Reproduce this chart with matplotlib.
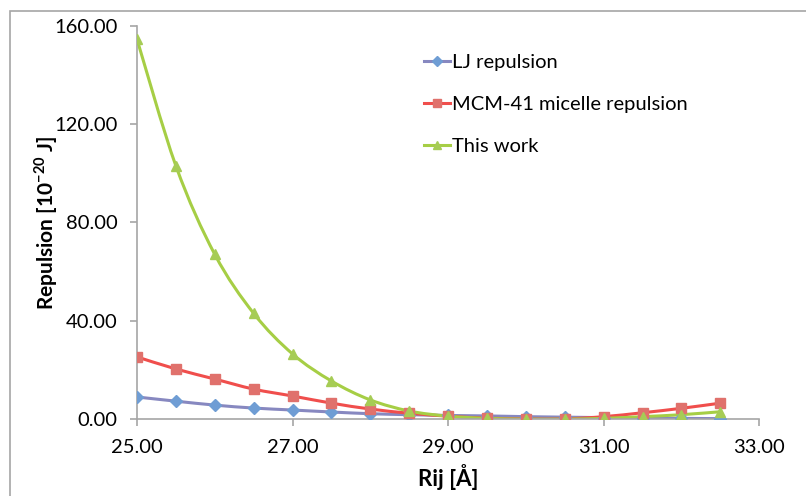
import matplotlib
matplotlib.use('Agg')
import matplotlib.pyplot as plt
import numpy as np
from matplotlib.path import Path
from matplotlib.patches import PathPatch, Rectangle
from matplotlib.lines import Line2D

plt.rcParams['font.family'] = ['Lato', 'DejaVu Sans']
plt.rcParams['mathtext.fontset'] = 'custom'
plt.rcParams['mathtext.rm'] = 'Lato'
plt.rcParams['mathtext.bf'] = 'Lato:bold'

# данные
rij = [25.0, 25.5, 26.0, 26.5, 27.0, 27.5, 28.0, 28.5,
       29.0, 29.5, 30.0, 30.5, 31.0, 31.5, 32.0, 32.5]
lj_rep = [9.0, 7.3, 5.7, 4.5, 3.7, 2.9, 2.2, 1.8,
          1.5, 1.3, 1.0, 0.8, 0.6, 0.4, 0.3, 0.2]
mcm_rep = [25.3, 20.4, 16.3, 12.2, 9.4, 6.5, 4.1, 2.4,
           1.2, 0.4, 0.1, 0.1, 1.0, 2.6, 4.4, 6.5]
this_work = [154.5, 103.0, 67.0, 43.0, 26.5, 15.5, 7.8, 3.3,
             1.2, 0.3, 0.0, 0.0, 0.3, 1.0, 1.8, 3.0]

series = [
    ('LJ repulsion', lj_rep, '#8788C0', '#6F9DD4', 'D', 6.0),
    ('MCM-41 micelle repulsion', mcm_rep, '#F04E4C', '#E0716C', 's', 7.0),
    ('This work', this_work, '#A6CE45', '#A6CC55', '^', 7.5),
]


def smooth_path(x, y):
    # сглаженная линия как в Excel (кубические Безье)
    pts = np.column_stack([x, y])
    n = len(pts)
    verts = [pts[0]]
    codes = [Path.MOVETO]
    for i in range(n - 1):
        p0 = pts[i - 1] if i > 0 else pts[i]
        p1 = pts[i]
        p2 = pts[i + 1]
        p3 = pts[i + 2] if i + 2 < n else pts[i + 1]
        c1 = p1 + (p2 - p0) / 6.0
        c2 = p2 - (p3 - p1) / 6.0
        verts += [c1, c2, p2]
        codes += [Path.CURVE4] * 3
    return Path(verts, codes)


fig = plt.figure(figsize=(8.06, 4.96), dpi=100)
ax = fig.add_axes([0.170, 0.155, 0.772, 0.793])

handles = []
for name, vals, lc, mc, mk, ms in series:
    ax.add_patch(PathPatch(smooth_path(rij, vals), facecolor='none',
                           edgecolor=lc, linewidth=2.2, zorder=2))
    ax.plot(rij, vals, linestyle='none', marker=mk, markersize=ms,
            markerfacecolor=mc, markeredgecolor=mc, zorder=3)
    handles.append(Line2D([], [], color=lc, linewidth=2.2, marker=mk,
                          markersize=ms * 0.8, markerfacecolor=mc,
                          markeredgecolor=mc, label=name))

ax.set_xlim(25, 33)
ax.set_ylim(0, 160)
ax.set_xticks(np.arange(25, 33.1, 2))
ax.set_yticks(np.arange(0, 160.1, 40))
ax.xaxis.set_major_formatter(matplotlib.ticker.FormatStrFormatter('%.2f'))
ax.yaxis.set_major_formatter(matplotlib.ticker.FormatStrFormatter('%.2f'))

for s in ['top', 'right']:
    ax.spines[s].set_visible(False)
for s in ['left', 'bottom']:
    ax.spines[s].set_color('#A6A6A6')
    ax.spines[s].set_linewidth(1.2)
ax.tick_params(colors='#A6A6A6', labelcolor='black', labelsize=14.5,
               length=5, width=1.2)
ax.tick_params(axis='x', pad=9)
ax.tick_params(axis='y', pad=9)

ax.set_xlabel('Rij [Å]', fontsize=16, fontweight='bold', labelpad=6)
ax.set_ylabel(r'Repulsion [10$^{\mathbf{-20}}$ J]', fontsize=15,
              fontweight='bold', labelpad=-4)

ax.legend(handles=handles, loc='upper left', bbox_to_anchor=(0.432, 0.975),
          frameon=False, fontsize=14.5, handlelength=1.3, handletextpad=0.1,
          labelspacing=1.25)

# рамка области диаграммы
fig.add_artist(Rectangle((10 / 806, -0.1), 1.0, 1.1 - 11 / 496,
                         transform=fig.transFigure, fill=False,
                         edgecolor='#A6A6A6', linewidth=1.2))

fig.savefig('out.png', dpi=100)
plt.close(fig)
